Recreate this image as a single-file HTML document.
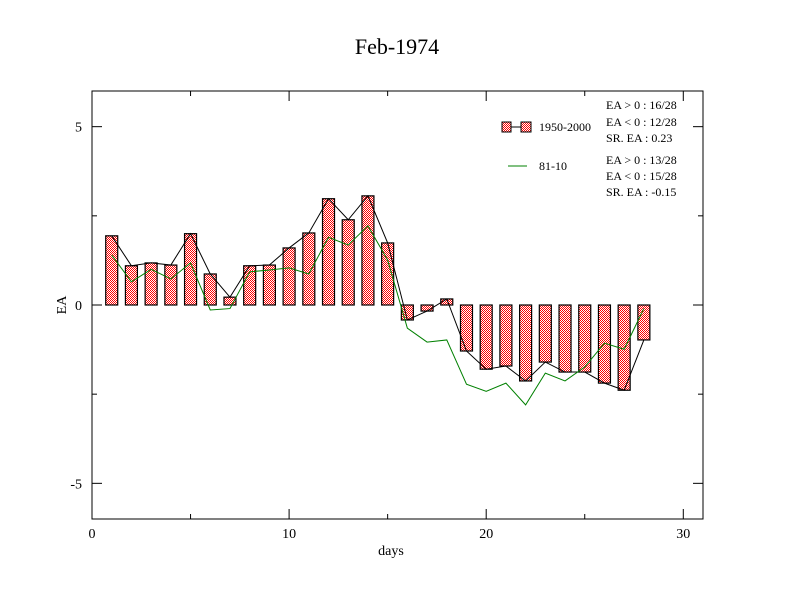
<!DOCTYPE html>
<html><head><meta charset="utf-8"><style>
body{margin:0;background:#fff}
svg{display:block;font-family:"Liberation Serif",serif}
</style></head><body>
<svg id="chart" width="792" height="612" viewBox="0 0 792 612">
<defs>
<pattern id="chk" width="2" height="2" patternUnits="userSpaceOnUse">
<rect width="2" height="2" fill="#fff"/><rect width="1" height="1" fill="#ff0000"/><rect x="1" y="1" width="1" height="1" fill="#ff0000"/>
</pattern>
</defs>
<text x="397" y="54" text-anchor="middle" font-size="22">Feb-1974</text>
<rect x="92" y="91" width="611" height="428" fill="none" stroke="#000" stroke-width="1"/>
<g id="axes"></g>
<g id="marks"></g>
<text x="391" y="555" text-anchor="middle" font-size="14">days</text>
<text x="66" y="305" text-anchor="middle" font-size="14" transform="rotate(-90 66 305)">EA</text>
<g>
<line x1="511" y1="127" x2="521" y2="127" stroke="#000"/>
<rect x="502" y="122" width="9" height="10" fill="url(#chk)" stroke="#000"/>
<rect x="521" y="122" width="10" height="10" fill="url(#chk)" stroke="#000"/>
<text x="539" y="131" font-size="12">1950-2000</text>
<line x1="508" y1="166" x2="527" y2="166" stroke="#008000"/>
<text x="539" y="170" font-size="12">81-10</text>
<g font-size="12">
<text x="606" y="109">EA &gt; 0 : 16/28</text>
<text x="606" y="126">EA &lt; 0 : 12/28</text>
<text x="606" y="142">SR. EA :  0.23</text>
<text x="606" y="164">EA &gt; 0 : 13/28</text>
<text x="606" y="180">EA &lt; 0 : 15/28</text>
<text x="606" y="196">SR. EA : -0.15</text>
</g>
</g>
</svg>
<script>
const days=[1,2,3,4,5,6,7,8,9,10,11,12,13,14,15,16,17,18,19,20,21,22,23,24,25,26,27,28];
const barValues=[1.94,1.1,1.18,1.12,2.0,0.87,0.22,1.1,1.12,1.6,2.02,2.98,2.39,3.06,1.74,-0.42,-0.17,0.17,-1.29,-1.8,-1.71,-2.13,-1.6,-1.88,-1.88,-2.19,-2.39,-0.98];
const greenValues=[1.4,0.65,1.0,0.73,1.18,-0.14,-0.1,0.93,0.98,1.04,0.87,1.9,1.68,2.22,1.26,-0.65,-1.04,-0.98,-2.22,-2.42,-2.19,-2.8,-1.91,-2.13,-1.74,-1.07,-1.24,-0.1];
const xTicks=[0,10,20,30];
const yTicks=[-5,0,5];
const NS="http://www.w3.org/2000/svg";
const X0=92,X1=703,Y0=519,Y1=91,xmin=0,xmax=31,ymin=-6,ymax=6;
function sx(v){return X0+(v-xmin)/(xmax-xmin)*(X1-X0);}
function sy(v){return Y0-(v-ymin)/(ymax-ymin)*(Y0-Y1);}
function mk(t,a,p){const e=document.createElementNS(NS,t);for(const k in a)e.setAttribute(k,a[k]);(p||document.getElementById('marks')).appendChild(e);return e;}
const ax=document.getElementById('axes');
xTicks.forEach(t=>{
  const x=sx(t);
  const tk=mk('line',{x1:x,y1:Y0,x2:x,y2:Y0-10,stroke:'#000'},ax);
  
  
  mk('line',{x1:x,y1:Y1,x2:x,y2:Y1+10,stroke:'#000'},ax);
  const lb=mk('text',{x:x,y:538,'text-anchor':'middle','font-size':14},ax);
  lb.textContent=t;
  
  
});
for(let t=5;t<31;t+=10){const x=sx(t);mk('line',{x1:x,y1:Y0,x2:x,y2:Y0-5,stroke:'#000'},ax);mk('line',{x1:x,y1:Y1,x2:x,y2:Y1+5,stroke:'#000'},ax);}
yTicks.forEach(t=>{
  const y=sy(t);
  const tk=mk('line',{x1:X0,y1:y,x2:X0+10,y2:y,stroke:'#000'},ax);
  
  
  mk('line',{x1:X1,y1:y,x2:X1-10,y2:y,stroke:'#000'},ax);
  const lb=mk('text',{x:82,y:y+5,'text-anchor':'end','font-size':14},ax);
  lb.textContent=t;
  
  
});
[-2.5,2.5].forEach(t=>{const y=sy(t);mk('line',{x1:X0,y1:y,x2:X0+5,y2:y,stroke:'#000'},ax);mk('line',{x1:X1,y1:y,x2:X1-5,y2:y,stroke:'#000'},ax);});
const bw=12;
days.forEach((d,i)=>{
  const v=barValues[i];const y=Math.min(sy(v),sy(0));const h=Math.abs(sy(v)-sy(0));
  const r=mk('rect',{x:sx(d)-bw/2,y:y,width:bw,height:h,fill:'url(#chk)',stroke:'#000','stroke-width':1.2});
  
  
});
const bl=mk('polyline',{points:days.map((d,i)=>sx(d)+','+sy(barValues[i])).join(' '),fill:'none',stroke:'#000','stroke-width':1});


const gl=mk('polyline',{points:days.map((d,i)=>sx(d)+','+sy(greenValues[i])).join(' '),fill:'none',stroke:'#008000','stroke-width':1});


</script>
</body></html>
